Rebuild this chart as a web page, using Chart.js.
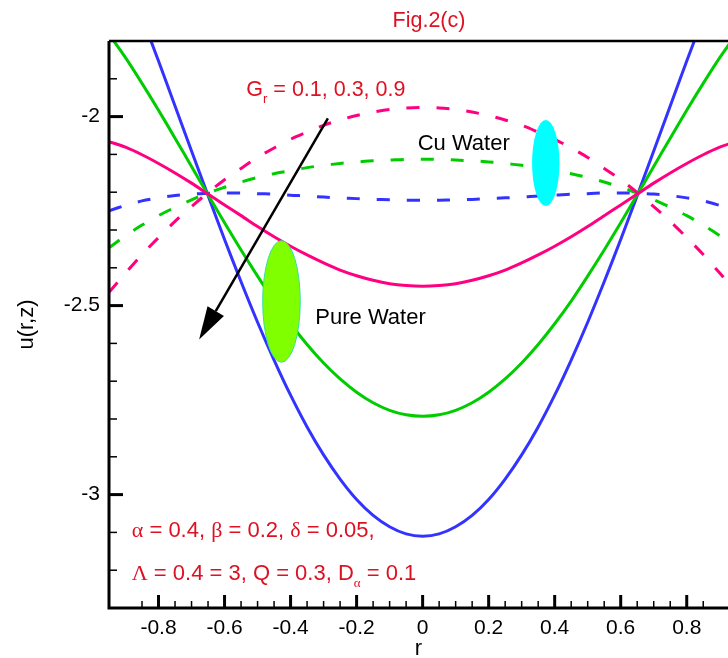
<!DOCTYPE html>
<html>
<head>
<meta charset="utf-8">
<script src="https://cdn.jsdelivr.net/npm/chart.js@4.4.0/dist/chart.umd.min.js"></script>
<style>
  html, body { margin: 0; padding: 0; background: #fff; }
</style>
</head>
<body>
<canvas id="myCanvas" width="728" height="658"></canvas>
<script>
// r positions of the sampled points
const rValues = [-0.95,-0.9,-0.85,-0.8,-0.75,-0.7,-0.65,-0.6,-0.55,-0.5,-0.45,-0.4,-0.35,-0.3,-0.25,-0.2,-0.15,-0.1,-0.05,0,
  0.05,0.1,0.15,0.2,0.25,0.3,0.35,0.4,0.45,0.5,0.55,0.6,0.65,0.7,0.75,0.8,0.85,0.9,0.95];

// Pure Water (solid), Gr = 0.1, 0.3, 0.9
const pureGr01 = [-2.066,-2.081,-2.101,-2.124,-2.149,-2.176,-2.205,-2.234,-2.262,-2.291,-2.318,-2.343,-2.366,-2.387,-2.406,-2.421,-2.433,-2.442,-2.447,-2.449,
  -2.447,-2.442,-2.433,-2.421,-2.406,-2.387,-2.366,-2.343,-2.318,-2.291,-2.262,-2.234,-2.205,-2.176,-2.149,-2.124,-2.101,-2.081,-2.066];
const pureGr03 = [-1.782,-1.844,-1.912,-1.983,-2.057,-2.132,-2.207,-2.281,-2.353,-2.422,-2.488,-2.548,-2.603,-2.652,-2.694,-2.729,-2.757,-2.777,-2.789,-2.793,
  -2.789,-2.777,-2.757,-2.729,-2.694,-2.652,-2.603,-2.548,-2.488,-2.422,-2.353,-2.281,-2.207,-2.132,-2.057,-1.983,-1.912,-1.844,-1.782];
const pureGr09 = [-1.521,-1.626,-1.738,-1.853,-1.972,-2.091,-2.209,-2.325,-2.437,-2.544,-2.644,-2.737,-2.821,-2.895,-2.959,-3.013,-3.055,-3.085,-3.104,-3.110,
  -3.104,-3.085,-3.055,-3.013,-2.959,-2.895,-2.821,-2.737,-2.644,-2.544,-2.437,-2.325,-2.209,-2.091,-1.972,-1.853,-1.738,-1.626,-1.521];

// Cu Water (dashed), Gr = 0.1, 0.3, 0.9
const cuGr01 = [-2.465,-2.414,-2.365,-2.320,-2.277,-2.238,-2.201,-2.167,-2.137,-2.108,-2.083,-2.060,-2.041,-2.023,-2.009,-1.997,-1.988,-1.981,-1.977,-1.976,
  -1.977,-1.981,-1.988,-1.997,-2.009,-2.023,-2.041,-2.060,-2.083,-2.108,-2.137,-2.167,-2.201,-2.238,-2.277,-2.320,-2.365,-2.414,-2.465];
const cuGr03 = [-2.347,-2.315,-2.287,-2.262,-2.240,-2.220,-2.202,-2.187,-2.173,-2.161,-2.151,-2.143,-2.135,-2.129,-2.124,-2.120,-2.117,-2.115,-2.113,-2.113,
  -2.113,-2.115,-2.117,-2.120,-2.124,-2.129,-2.135,-2.143,-2.151,-2.161,-2.173,-2.187,-2.202,-2.220,-2.240,-2.262,-2.287,-2.315,-2.347];
const cuGr09 = [-2.249,-2.235,-2.223,-2.215,-2.209,-2.205,-2.203,-2.202,-2.202,-2.204,-2.205,-2.208,-2.210,-2.213,-2.215,-2.217,-2.219,-2.220,-2.221,-2.221,
  -2.221,-2.220,-2.219,-2.217,-2.215,-2.213,-2.210,-2.208,-2.205,-2.204,-2.202,-2.202,-2.203,-2.205,-2.209,-2.215,-2.223,-2.235,-2.249];

// labelled ticks
const xTickLabels = [-0.8, -0.6, -0.4, -0.2, 0, 0.2, 0.4, 0.6, 0.8];
const yTickLabels = [-3, -2.5, -2];

const PINK = '#ff0080', GREEN = '#00cc00', BLUE = '#3333ff', RED = '#dd1122';
const FONT = '"Liberation Sans", Arial, sans-serif';
const SERIF = '"Liberation Serif", "Times New Roman", serif';

Chart.defaults.font.family = FONT;
Chart.defaults.color = '#000';

const near = (a, b) => Math.abs(a - b) < 1e-6;
const onStep = (v, step) => Math.abs(v / step - Math.round(v / step)) < 1e-6;

function toPoints(ys) {
  return rValues.map((r, i) => ({ x: r, y: ys[i] }));
}

function series(ys, color, dashed) {
  return {
    data: toPoints(ys),
    borderColor: color,
    borderWidth: 3,
    borderDash: dashed ? [13, 17] : [],
    pointRadius: 0,
    tension: 0.3,
    fill: false
  };
}

// axis frame with Tecplot style inward ticks
const frameAxes = {
  id: 'frameAxes',
  afterDatasetsDraw(chart) {
    const { ctx, chartArea: a, scales: { x, y } } = chart;
    ctx.save();
    ctx.strokeStyle = '#000';
    ctx.lineCap = 'butt';

    x.ticks.forEach(t => {
      const v = t.value;
      if (!onStep(v, 0.05) || near(v, x.min) || near(v, x.max)) return;
      const major = xTickLabels.some(m => near(m, v));
      const px = x.getPixelForValue(v);
      ctx.lineWidth = major ? 3 : 1.5;
      ctx.beginPath();
      ctx.moveTo(px, a.bottom);
      ctx.lineTo(px, a.bottom - (major ? 13 : 7));
      ctx.stroke();
    });
    y.ticks.forEach(t => {
      const v = t.value;
      if (!onStep(v, 0.1) || near(v, y.min) || near(v, y.max)) return;
      const major = yTickLabels.some(m => near(m, v));
      const py = y.getPixelForValue(v);
      ctx.lineWidth = major ? 3 : 1.5;
      ctx.beginPath();
      ctx.moveTo(a.left, py);
      ctx.lineTo(a.left + (major ? 14 : 8), py);
      ctx.stroke();
    });

    ctx.lineWidth = 3;
    ctx.beginPath();
    ctx.moveTo(a.left, a.top);
    ctx.lineTo(a.left, a.bottom);
    ctx.lineTo(a.right, a.bottom);
    ctx.stroke();
    ctx.lineWidth = 2.5;
    ctx.beginPath();
    ctx.moveTo(a.left, a.top);
    ctx.lineTo(a.right, a.top);
    ctx.stroke();
    ctx.restore();
  }
};

// write text made of parts: [text, isSub, isSerif]
function drawRich(ctx, parts, x0, y0, size) {
  let x = x0;
  parts.forEach(([txt, sub, serif]) => {
    ctx.font = (sub ? Math.round(size * 0.6) : size) + 'px ' + (serif ? SERIF : FONT);
    ctx.fillText(txt, x, sub ? y0 + size * 0.3 : y0);
    x += ctx.measureText(txt).width;
  });
}

const notes = {
  id: 'notes',
  afterDatasetsDraw(chart) {
    const { ctx, scales: { x, y } } = chart;
    const px = v => x.getPixelForValue(v);
    const py = v => y.getPixelForValue(v);
    ctx.save();
    ctx.textAlign = 'left';
    ctx.textBaseline = 'alphabetic';

    // title
    ctx.fillStyle = RED;
    ctx.font = '21.5px ' + FONT;
    ctx.textAlign = 'center';
    ctx.fillText('Fig.2(c)', 429, 27);
    ctx.textAlign = 'left';

    // ellipses
    ctx.fillStyle = '#00ffff';
    ctx.beginPath();
    ctx.ellipse(px(0.373), py(-2.123), 13.7, 43, 0, 0, Math.PI * 2);
    ctx.fill();

    ctx.fillStyle = '#80ff00';
    ctx.strokeStyle = '#30e0a0';
    ctx.lineWidth = 1;
    ctx.beginPath();
    ctx.ellipse(px(-0.4276), py(-2.489), 18.8, 60.8, 0, 0, Math.PI * 2);
    ctx.fill();
    ctx.stroke();

    // arrow
    const x1 = px(-0.287), y1 = py(-2.005), x2 = px(-0.677), y2 = py(-2.590);
    const ang = Math.atan2(y2 - y1, x2 - x1);
    const headLen = 33, headHalf = 9.5;
    const bx = x2 - headLen * Math.cos(ang), by = y2 - headLen * Math.sin(ang);
    ctx.strokeStyle = '#000';
    ctx.lineWidth = 2.5;
    ctx.beginPath();
    ctx.moveTo(x1, y1);
    ctx.lineTo(bx, by);
    ctx.stroke();
    ctx.fillStyle = '#000';
    ctx.beginPath();
    ctx.moveTo(x2, y2);
    ctx.lineTo(bx + headHalf * Math.sin(ang), by - headHalf * Math.cos(ang));
    ctx.lineTo(bx - headHalf * Math.sin(ang), by + headHalf * Math.cos(ang));
    ctx.closePath();
    ctx.fill();

    // labels
    ctx.fillStyle = '#000';
    ctx.font = '22px ' + FONT;
    ctx.fillText('Cu Water', px(-0.015), py(-2.0875));
    ctx.fillText('Pure Water', px(-0.325), py(-2.548));

    ctx.fillStyle = RED;
    drawRich(ctx, [['G'], ['r', true], [' = 0.1, 0.3, 0.9']], px(-0.534), py(-1.9465), 21.5);
    drawRich(ctx, [['\u03b1', false, true], [' = 0.4, '], ['\u03b2', false, true], [' = 0.2, '],
      ['\u03b4', false, true], [' = 0.05,']], px(-0.881), py(-3.112), 22);
    drawRich(ctx, [['\u039b', false, true], [' = 0.4 = 3, Q = 0.3, D'], ['\u03b1', true, true], [' = 0.1']],
      px(-0.881), py(-3.226), 22);
    ctx.restore();
  }
};

const canvas = document.getElementById('myCanvas');
new Chart(canvas, {
  type: 'line',
  data: {
    datasets: [
      series(pureGr01, PINK, false),
      series(pureGr03, GREEN, false),
      series(pureGr09, BLUE, false),
      series(cuGr01, PINK, true),
      series(cuGr03, GREEN, true),
      series(cuGr09, BLUE, true)
    ]
  },
  options: {
    responsive: false,
    animation: false,
    devicePixelRatio: 1,
    layout: { padding: { top: 41, left: 0, right: 0, bottom: 0 } },
    plugins: {
      legend: { display: false },
      tooltip: { enabled: false },
      title: { display: false }
    },
    scales: {
      x: {
        type: 'linear',
        min: -0.95,
        max: 0.925,
        grid: { display: false, tickLength: 8 },
        border: { display: false },
        ticks: {
          stepSize: 0.05,
          autoSkip: false,
          maxRotation: 0,
          padding: 0,
          font: { size: 21 },
          callback: v => xTickLabels.some(m => near(m, v)) ? String(Math.round(v * 10) / 10) : ''
        },
        title: { display: true, text: 'r', font: { size: 22, lineHeight: 0.8 }, padding: { top: 0, bottom: 0 } },
        afterFit(s) { s.height = 50; }
      },
      y: {
        min: -3.3,
        max: -1.8,
        grid: { display: false, tickLength: 8 },
        border: { display: false },
        ticks: {
          stepSize: 0.1,
          autoSkip: false,
          padding: 1,
          font: { size: 21 },
          callback: v => yTickLabels.some(m => near(m, v)) ? String(Math.round(v * 10) / 10) : ''
        },
        title: { display: true, text: 'u(r,z)', font: { size: 22 }, padding: { top: 14, bottom: 0 } },
        afterFit(s) { s.width = 109; }
      }
    }
  },
  plugins: [frameAxes, notes]
});
</script>
</body>
</html>
